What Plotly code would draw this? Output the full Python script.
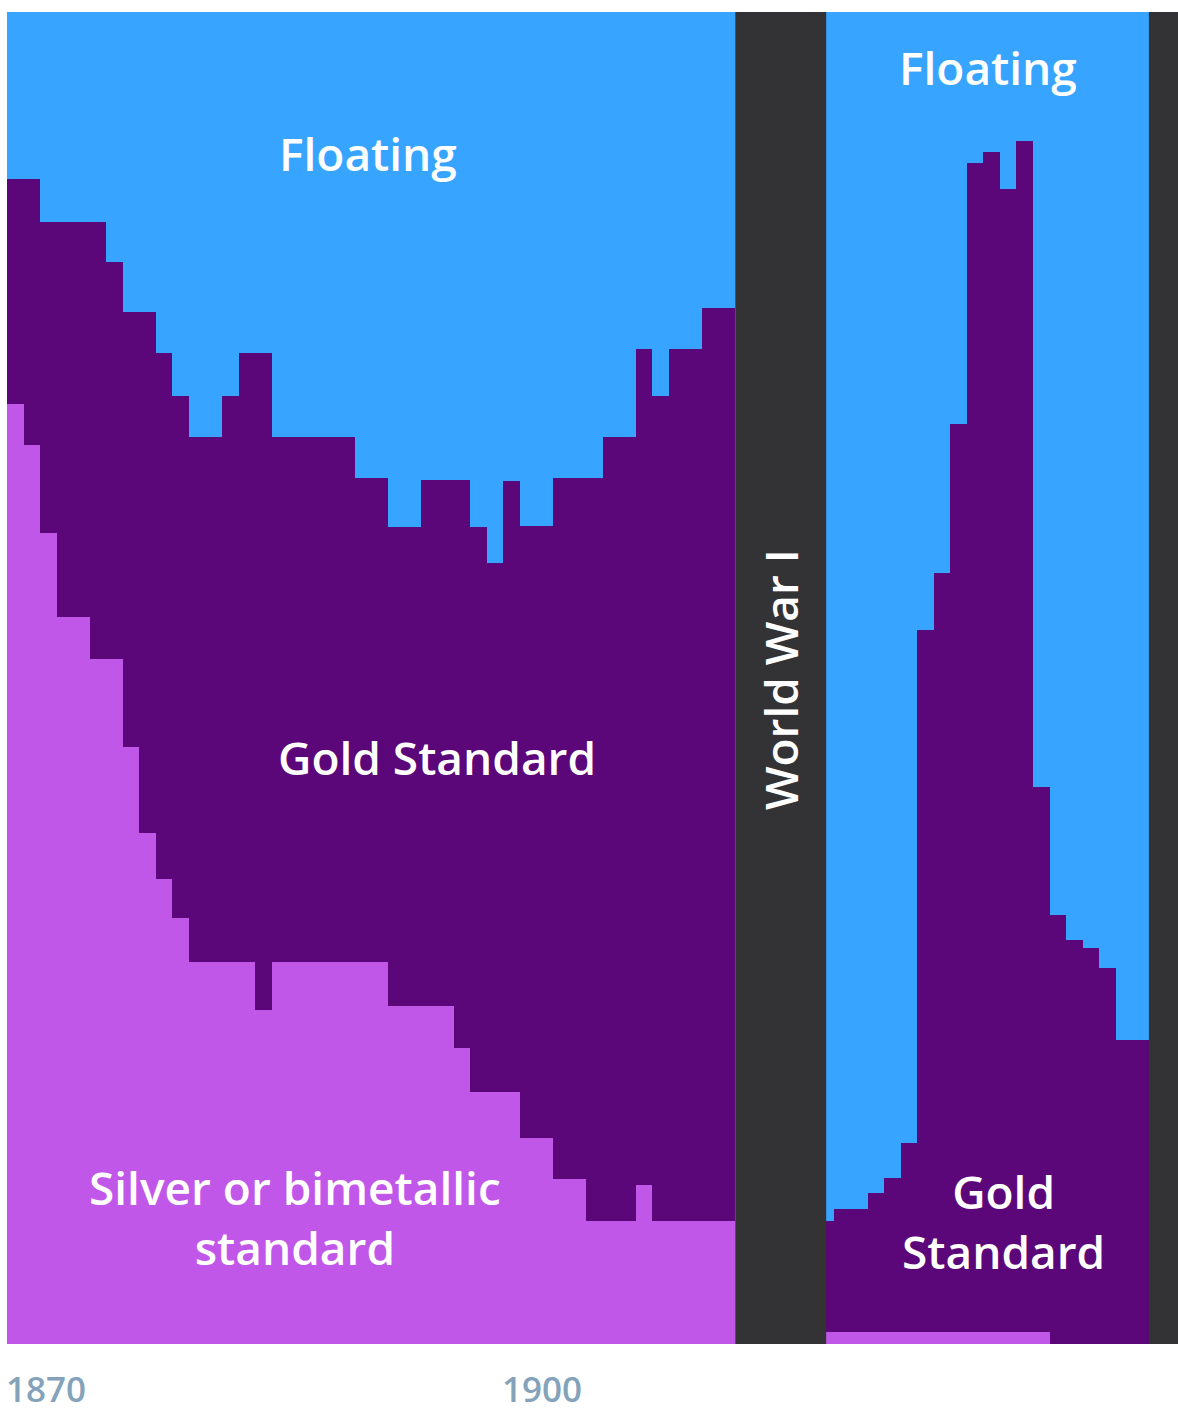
import plotly.graph_objects as go

# ---- Data (share of countries, %) ----
years_pre = list(range(1870, 1914))
silver_pre = [70.6, 67.5, 60.9, 54.6, 54.6, 51.4, 51.4, 44.8, 38.4, 34.9,
              32.0, 28.7, 28.7, 28.7, 28.7, 25.1, 28.7, 28.7, 28.7, 28.7,
              28.7, 28.7, 28.7, 25.4, 25.4, 25.4, 25.4, 22.2, 18.9, 18.9,
              18.9, 15.5, 15.5, 12.4, 12.4, 9.2, 9.2, 9.2, 11.9, 9.2,
              9.2, 9.2, 9.2, 9.2]
gold_pre = [16.9, 20.0, 23.3, 29.6, 29.6, 32.8, 29.8, 32.7, 39.1, 39.5,
            39.2, 39.4, 39.4, 42.5, 45.7, 49.3, 39.4, 39.4, 39.4, 39.4,
            39.4, 36.3, 36.3, 35.9, 35.9, 39.5, 39.5, 42.7, 42.4, 39.7,
            45.9, 45.9, 45.9, 52.6, 52.6, 55.8, 58.9, 58.9, 62.8, 62.0,
            65.5, 65.5, 68.6, 68.6]
floating_pre = [12.5, 12.5, 15.8, 15.8, 15.8, 15.8, 18.8, 22.5, 22.5, 25.6,
                28.8, 31.9, 31.9, 28.8, 25.6, 25.6, 31.9, 31.9, 31.9, 31.9,
                31.9, 35.0, 35.0, 38.7, 38.7, 35.1, 35.1, 35.1, 38.7, 41.4,
                35.2, 38.6, 38.6, 35.0, 35.0, 35.0, 31.9, 31.9, 25.3, 28.8,
                25.3, 25.3, 22.2, 22.2]

years_post = list(range(1919, 1939))
silver_post = [0.9, 0.9, 0.9, 0.9, 0.9, 0.9, 0.9, 0.9, 0.9, 0.9,
               0.9, 0.9, 0.9, 0.9, 0.0, 0.0, 0.0, 0.0, 0.0, 0.0]
gold_post = [8.3, 9.2, 9.2, 10.4, 11.6, 14.2, 52.7, 57.0, 68.2, 87.8,
             88.6, 85.8, 89.4, 40.9, 32.2, 30.3, 29.7, 28.2, 22.8, 22.8]
floating_post = [90.8, 89.9, 89.9, 88.7, 87.5, 84.9, 46.4, 42.1, 30.9, 11.3,
                 10.5, 13.3, 9.7, 58.2, 67.8, 69.7, 70.3, 71.8, 77.2, 77.2]

tick_years = [1870, 1900]

# ---- Style ----
C_SILVER = "#C157E8"
C_GOLD = "#5C0779"
C_FLOAT = "#37A5FF"
C_WAR = "#333336"
FONT = "Open Sans"

fig = go.Figure()

for yrs, vals, col, name in [
    (years_pre + years_post, silver_pre + silver_post, C_SILVER, "Silver or bimetallic standard"),
    (years_pre + years_post, gold_pre + gold_post, C_GOLD, "Gold Standard"),
    (years_pre + years_post, floating_pre + floating_post, C_FLOAT, "Floating"),
]:
    fig.add_trace(go.Bar(
        x=yrs, y=vals, width=1, offset=0, name=name,
        marker=dict(color=col, line=dict(width=0)),
        showlegend=False, hoverinfo="x+y+name",
    ))

x_end = 1940.76
# War bands
fig.add_shape(type="rect", xref="x", yref="y", x0=1914, x1=1919.5, y0=0, y1=100,
              fillcolor=C_WAR, line=dict(width=0), layer="above")
fig.add_shape(type="rect", xref="x", yref="y", x0=1939, x1=x_end, y0=0, y1=100,
              fillcolor=C_WAR, line=dict(width=0), layer="above")

lab_font = dict(family=FONT, size=46, color="white", weight=600)
annots = [
    dict(x=1891.8, y=89.4, text="Floating"),
    dict(x=1896.0, y=44.1, text="Gold Standard"),
    dict(x=1887.4, y=9.5, text="Silver or bimetallic<br>standard"),
    dict(x=1929.3, y=95.9, text="Floating"),
    dict(x=1930.2, y=9.2, text="Gold<br>Standard"),
]
for a in annots:
    fig.add_annotation(x=a["x"], y=a["y"], text=a["text"], showarrow=False,
                       font=lab_font, xanchor="center", yanchor="middle",
                       align="center")
fig.add_annotation(x=1916.75, y=49.9, text="World War I", showarrow=False,
                   textangle=-90, font=lab_font, xanchor="center", yanchor="middle")

for ty in tick_years:
    fig.add_annotation(x=ty, y=0, yref="y", text=str(ty), showarrow=False,
                       xanchor="left", yanchor="middle", yshift=-44, xshift=-3,
                       font=dict(family=FONT, size=35, color="#84A2BA", weight=600))

fig.update_layout(
    width=1178, height=1411,
    margin=dict(l=7, r=0, t=12, b=67),
    paper_bgcolor="white", plot_bgcolor="white",
    barmode="stack", bargap=0,
    xaxis=dict(range=[1870, x_end], showgrid=False, zeroline=False,
               showticklabels=False, ticks="", fixedrange=True),
    yaxis=dict(range=[0, 100], showgrid=False, zeroline=False,
               showticklabels=False, ticks="", fixedrange=True),
)

fig.write_html("out.html")
